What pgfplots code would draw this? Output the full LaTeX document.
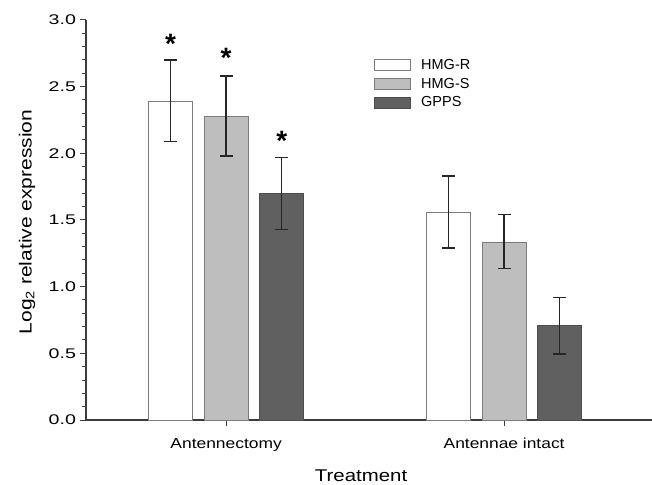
\documentclass[border=0pt]{standalone}
\usepackage{pgfplots}
\pgfplotsset{compat=1.18}
\usepackage{fontspec}
\setmainfont{Liberation Sans}
\newfontfamily\widefont[FakeStretch=1.2]{Liberation Sans}
\newfontfamily\tickfont[FakeStretch=1.4]{Liberation Sans}
\definecolor{barGray}{HTML}{BEBEBE}
\definecolor{barDark}{HTML}{606060}
\definecolor{axisGray}{HTML}{3C3C3C}
\definecolor{edgeGray}{HTML}{7C7C7C}

% bar position, mean, +err, -err
\pgfplotstableread{
x y ep em
0.8 2.39 0.31 0.30
1.8 1.56 0.27 0.27
}\hmgr
\pgfplotstableread{
x y ep em
1.0 2.275 0.305 0.295
2.0 1.335 0.205 0.20
}\hmgs
\pgfplotstableread{
x y ep em
1.2 1.70 0.27 0.27
2.2 0.71 0.21 0.215
}\gpps
% significance stars (baseline position)
\pgfplotstableread{
x y
0.8 2.745
1.0 2.645
1.2 2.02
}\stars

\begin{document}
\begin{tikzpicture}[x=1pt,y=1pt]
\begin{axis}[
  at={(0,0)}, anchor=south west,
  scale only axis, width=566pt, height=400pt,
  xmin=0.496, xmax=2.532, ymin=0, ymax=3,
  axis lines=left, axis line style={-, axisGray, line width=1.2pt},
  tick align=outside,
  xtick={1,2}, xticklabels={Antennectomy, Antennae intact},
  ytick={0,0.5,...,3.0},
  minor ytick={0.1,0.2,0.3,0.4,0.6,0.7,0.8,0.9,1.1,1.2,1.3,1.4,1.6,1.7,1.8,1.9,2.1,2.2,2.3,2.4,2.6,2.7,2.8,2.9},
  major tick length=5.5pt, minor tick length=3.5pt,
  tick style={axisGray, line width=1pt},
  minor tick style={axisGray, line width=1pt},
  xticklabel style={font=\widefont\fontsize{14.5}{16}\selectfont, yshift=-9pt},
  yticklabel style={font=\tickfont\fontsize{14}{16}\selectfont, xshift=-1pt},
  /pgf/number format/assume math mode=true,
  yticklabel={\pgfmathprintnumber[fixed, fixed zerofill, precision=1]{\tick}},
  xlabel={Treatment}, ylabel={Log\textsubscript{2} relative expression},
  xlabel style={font=\widefont\fontsize{17}{19}\selectfont, at={(axis description cs:0.486,-0.14)}, anchor=center},
  ylabel style={font=\widefont\fontsize{17.5}{19}\selectfont, at={(axis description cs:-0.104,0.495)}, anchor=center},
  legend style={at={(axis description cs:0.509,0.907)}, anchor=north west, draw=none, fill=none,
    font=\fontsize{14.5}{16}\selectfont, row sep=3pt, inner sep=0pt,
    /tikz/every odd column/.append style={column sep=8pt}},
  legend cell align=left,
  legend image code/.code={\draw[#1] (0pt,-5.5pt) rectangle (36pt,5.5pt);},
  error bars/error bar style={black!85, line width=1.3pt},
  error bars/error mark options={rotate=90, mark size=6.5pt, line width=1.5pt, black!85},
]
\addplot[ybar, bar width=0.158, bar shift=0, fill=white, draw=edgeGray, line width=0.9pt,
  error bars/.cd, y dir=both, y explicit]
  table[x=x, y=y, y error plus=ep, y error minus=em] {\hmgr};
\addlegendentry{HMG-R}
\addplot[ybar, bar width=0.158, bar shift=0, fill=barGray, draw=edgeGray, line width=0.9pt,
  error bars/.cd, y dir=both, y explicit]
  table[x=x, y=y, y error plus=ep, y error minus=em] {\hmgs};
\addlegendentry{HMG-S}
\addplot[ybar, bar width=0.158, bar shift=0, fill=barDark, draw=barDark!80!black, line width=0.9pt,
  error bars/.cd, y dir=both, y explicit]
  table[x=x, y=y, y error plus=ep, y error minus=em] {\gpps};
\addlegendentry{GPPS}
\addplot[forget plot, draw=none, mark=none, nodes near coords={*},
  every node near coord/.style={anchor=base, font=\bfseries\fontsize{28}{30}\selectfont, inner sep=0pt, black}]
  table[x=x, y=y] {\stars};
\end{axis}
\pgfresetboundingbox
\path[use as bounding box] (-86pt,-64pt) rectangle (566pt,420pt);
\end{tikzpicture}
\end{document}
